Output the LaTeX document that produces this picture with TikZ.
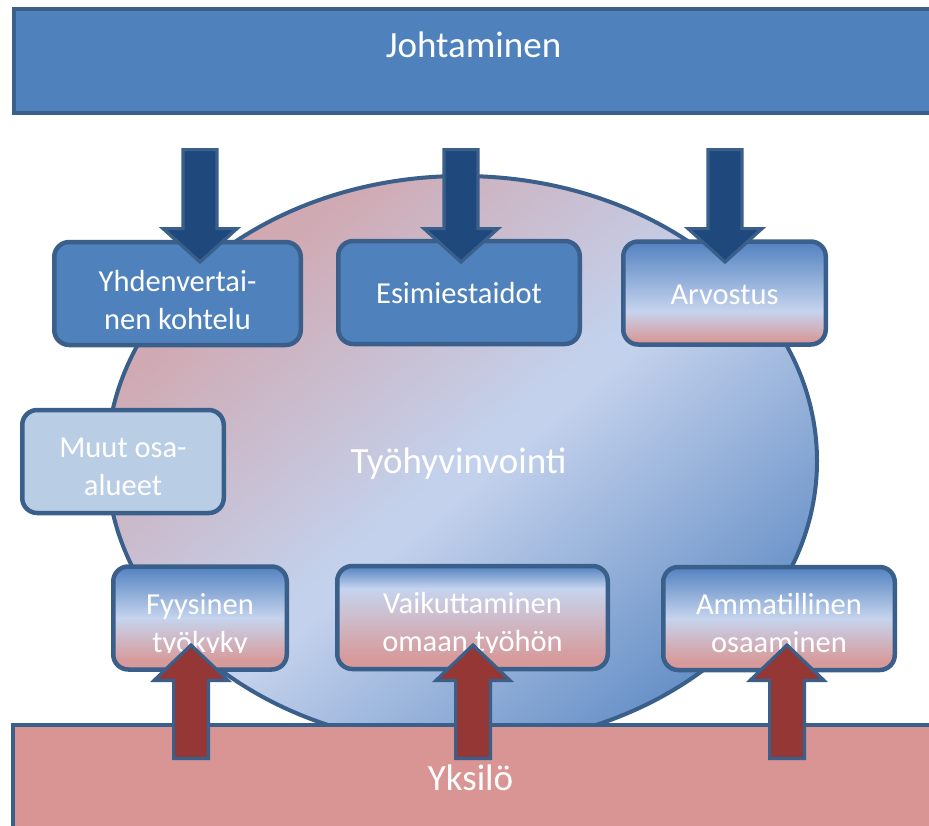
\documentclass[tikz,border=0pt]{standalone}
\usepackage{fontspec}
\setmainfont{Carlito}
\usetikzlibrary{shapes.geometric}
\definecolor{bordc}{HTML}{3A5F8B}
\definecolor{barblue}{HTML}{4F81BD}
\definecolor{barpink}{HTML}{D99594}
\definecolor{muutc}{HTML}{B9CDE5}
\definecolor{darr}{HTML}{1F497D}
\definecolor{uarr}{HTML}{953735}
\definecolor{pk}{HTML}{D79A9A}
\definecolor{lt}{HTML}{C6D4EE}
\definecolor{bl}{HTML}{5282C0}
\definecolor{epa}{HTML}{D2A8B0}
\definecolor{epk}{HTML}{D0AAB3}
\definecolor{elt}{HTML}{C3D1EC}
\definecolor{ebl}{HTML}{7399CC}
\definecolor{ebd}{HTML}{6690C7}
\pgfdeclareverticalshading{shA}{100bp}{color(0bp)=(pk); color(27bp)=(pk); color(41bp)=(lt); color(75bp)=(bl); color(100bp)=(bl)}
\pgfdeclareverticalshading{shB}{100bp}{color(0bp)=(pk); color(29bp)=(pk); color(50bp)=(lt); color(75bp)=(bl); color(100bp)=(bl)}
\pgfdeclareverticalshading{shC}{100bp}{color(0bp)=(pk); color(30bp)=(pk); color(64bp)=(lt); color(75bp)=(bl); color(100bp)=(bl)}
\pgfdeclarehorizontalshading{ellsh}{100bp}{color(0bp)=(epa); color(25bp)=(epa); color(28bp)=(epk); color(50bp)=(elt); color(52bp)=(elt); color(72bp)=(ebl); color(75bp)=(ebd); color(100bp)=(ebd)}
\newcommand\boxfont{\fontsize{30.5pt}{38pt}\selectfont}
\newcommand\bigfont{\fontsize{37pt}{44pt}\selectfont}
\newcommand\hA{\rule{0pt}{38pt}}
\newcommand\hB{\rule{0pt}{41pt}}
\newcommand\dA{\rule[-8pt]{0pt}{8pt}}
\newcommand\sA{\rule[-8pt]{0pt}{38pt}}
\begin{document}
\begin{tikzpicture}[x=1pt,y=-1pt,
  boxnode/.style={draw=bordc, line width=4.5pt, rounded corners=15pt, minimum height=103pt, inner sep=0pt, text=white, align=center, font=\boxfont},
  bigbar/.style={draw=bordc, line width=4pt, inner sep=0pt},
  bigtext/.style={text=white, font=\bigfont, anchor=base, inner sep=0pt},
  darrow/.style={draw=bordc, fill=darr, line width=3.2pt, line join=miter},
  uarrow/.style={draw=bordc, fill=uarr, line width=3.2pt, line join=miter}]
\useasboundingbox (0,0) rectangle (929,825);
\fill[white] (0,0) rectangle (929,825);
% well-being ellipse: diagonal gradient fill, then outline
\begin{scope}
  \clip (462,461) ellipse [x radius=355, y radius=285];
  \begin{scope}[transform canvas={rotate around={-50:(462,461)}}]
    \shade[shading=ellsh] (146,61) rectangle (778,861);
  \end{scope}
\end{scope}
\node[ellipse, draw=bordc, line width=4pt,
      minimum width=710pt, minimum height=570pt, inner sep=0pt] (ell) at (462,461) {};
% bars
\node[bigbar, fill=barblue, minimum width=924pt, minimum height=104pt] (lead) at (476,61) {};
\node[bigtext] (leadtxt) at (473.5,57) {Johtaminen};
\node[bigbar, fill=barpink, minimum width=924pt, minimum height=130pt] (indiv) at (475,790) {};
\node[bigtext] (indivtxt) at (470.5,790) {Yksilö};
\node[bigtext] (wb) at (458.5,473) {Työhyvinvointi};
% boxes
\node[boxnode, fill=barblue, minimum width=246.5pt] (b1) at (177.5,293.5) {\hB Yhdenvertai-\\nen kohtelu\dA};
\node[boxnode, fill=barblue, minimum width=241.5pt] (b2) at (459,292.5) {\sA Esimiestaidot};
\node[boxnode, shade, shading=shA, minimum width=202.5pt] (b3) at (724.5,293) {\sA Arvostus};
\node[boxnode, fill=muutc, minimum width=201.5pt] (b4) at (123,461.5) {\hA Muut osa-\\alueet\dA};
\node[boxnode, shade, shading=shB, minimum width=173.5pt] (b5) at (200,618) {};
\node[boxnode, shade, shading=shC, minimum width=270.5pt] (b6) at (472.5,617.5) {};
\node[boxnode, shade, shading=shB, minimum width=231.5pt] (b7) at (779,618.5) {\hA Ammatillinen\\osaaminen\dA};
\begin{scope}
  \clip (0,0) rectangle (929,652);
  \node[boxnode, draw=none, minimum width=173.5pt] (b5t) at (b5.center) {\hA Fyysinen\\työkyky\dA};
  \node[boxnode, draw=none, minimum width=270.5pt] (b6t) at (b6.center) {\hA Vaikuttaminen\\omaan työhön\dA};
\end{scope}
% down arrows
\foreach \x in {200,461,725} {
  \draw[darrow] (\x-17,149.6) -- (\x+17,149.6) -- (\x+17,228.6) -- (\x+37,228.6) -- (\x,262) -- (\x-37,228.6) -- (\x-17,228.6) -- cycle;
}
% up arrows
\foreach \x in {191,473,787} {
  \draw[uarrow] (\x-17.4,758.4) -- (\x+17.4,758.4) -- (\x+17.4,680.4) -- (\x+37,680.4) -- (\x,645) -- (\x-37,680.4) -- (\x-17.4,680.4) -- cycle;
}
\end{tikzpicture}
\end{document}
